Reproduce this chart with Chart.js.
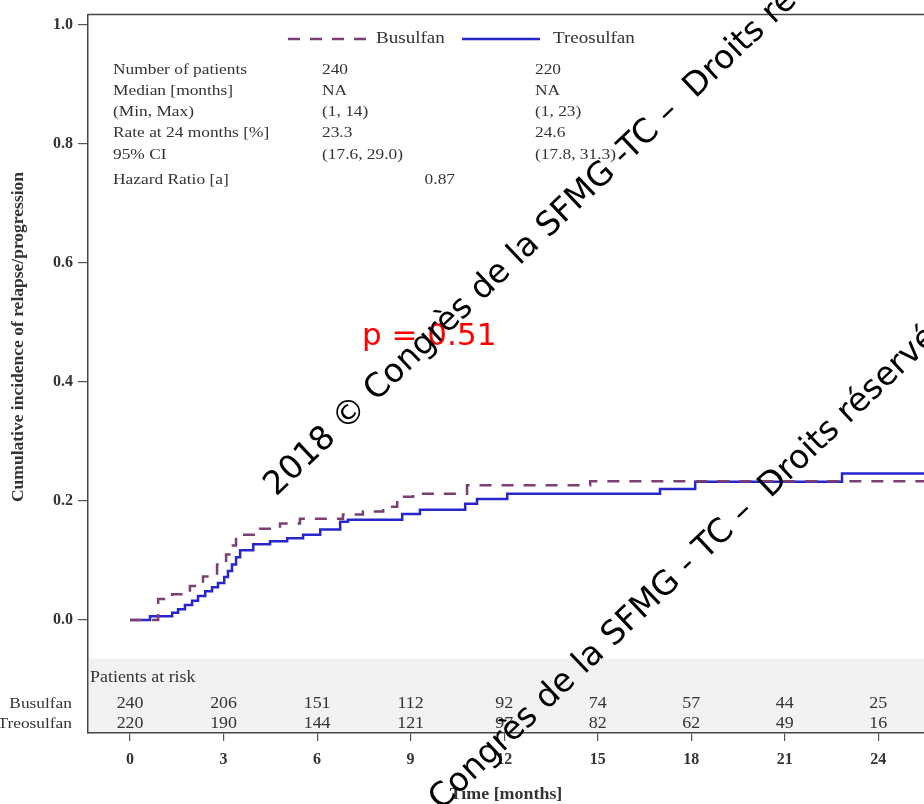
<!DOCTYPE html>
<html>
<head>
<meta charset="utf-8">
<script src="https://cdn.jsdelivr.net/npm/chart.js@4.4.1/dist/chart.umd.min.js"></script>
<style>
  html, body { margin: 0; padding: 0; background: #fff; }
  canvas { display: block; }
</style>
</head>
<body>
<canvas id="chart" width="924" height="804"></canvas>
<script>
// Cumulative incidence of relapse/progression by conditioning regimen
const groupNames = ['Busulfan', 'Treosulfan'];

// Busulfan: event times [months] and cumulative incidence after each event
const busulfanTime = [0, 0.9, 1.35, 1.92, 2.34, 2.79, 3.08, 3.24, 3.40, 3.60, 4.17, 4.81, 5.45, 6.83, 7.47, 8.12, 8.57, 9.08, 10.81, 14.76, 25.5];
const busulfanCI   = [0, 0.035, 0.043, 0.057, 0.073, 0.093, 0.110, 0.125, 0.140, 0.143, 0.153, 0.162, 0.170, 0.177, 0.182, 0.190, 0.207, 0.212, 0.226, 0.233, 0.233];

// Treosulfan: event times [months] and cumulative incidence after each event
const treosulfanTime = [0, 0.64, 1.35, 1.54, 1.76, 1.99, 2.18, 2.41, 2.63, 2.82, 3.02, 3.14, 3.27, 3.40, 3.53, 3.95, 4.49, 5.04, 5.55, 6.10, 6.74, 6.99, 8.73, 9.30, 10.75, 11.13, 12.10, 17.00, 18.13, 22.84, 25.5];
const treosulfanCI   = [0, 0.006, 0.012, 0.018, 0.025, 0.032, 0.040, 0.048, 0.055, 0.062, 0.072, 0.082, 0.093, 0.105, 0.117, 0.127, 0.132, 0.137, 0.143, 0.152, 0.165, 0.168, 0.178, 0.185, 0.195, 0.203, 0.212, 0.220, 0.232, 0.246, 0.246];

// Axis ticks
const xTicks = [0, 3, 6, 9, 12, 15, 18, 21, 24];
const yTicks = [0, 0.2, 0.4, 0.6, 0.8, 1.0];

// Patients at risk at each x tick
const busulfanAtRisk   = [240, 206, 151, 112, 92, 74, 57, 44, 25];
const treosulfanAtRisk = [220, 190, 144, 121, 97, 82, 62, 49, 16];

// Summary table
const statLabels      = ['Number of patients', 'Median [months]', '(Min, Max)', 'Rate at 24 months [%]', '95% CI', 'Hazard Ratio [a]'];
const busulfanStats   = ['240', 'NA', '(1, 14)', '23.3', '(17.6, 29.0)', ''];
const treosulfanStats = ['220', 'NA', '(1, 23)', '24.6', '(17.8, 31.3)', ''];
const hazardRatio = '0.87';
const pValueText = 'p = 0.51';

const watermarkTexts = [
  '2018 \u00A9 Congr\u00E8s de la SFMG -TC \u2013  Droits r\u00E9serv\u00E9s',
  '2018 \u00A9 Congr\u00E8s de la SFMG - TC \u2013  Droits r\u00E9serv\u00E9s'
];

const COLOR_BU = '#7b3f72';
const COLOR_TREO = '#2626cc';
const TEXT_COLOR = '#333';
const SERIF = '"Liberation Serif", "Times New Roman", serif';
const SX = 1.12; // horizontal stretch of the serif annotation text

function toPoints(ts, vs) { return ts.map((t, i) => ({ x: t, y: vs[i] })); }

function drawText(ctx, s, x, y, font, color, align, sx) {
  ctx.save();
  ctx.font = font;
  ctx.fillStyle = color;
  ctx.textBaseline = 'middle';
  ctx.textAlign = align || 'left';
  ctx.translate(x, y);
  ctx.scale(sx === undefined ? SX : sx, 1);
  ctx.fillText(s, 0, 0);
  ctx.restore();
}

const decorations = {
  id: 'decorations',
  beforeDraw(chart) {
    // shaded band holding the patients-at-risk table
    const { ctx, chartArea, scales } = chart;
    const yTop = scales.y.getPixelForValue(-0.065);
    ctx.save();
    ctx.fillStyle = '#f2f2f2';
    ctx.fillRect(chartArea.left + 1, yTop, chartArea.right - chartArea.left, chartArea.bottom - yTop - 1);
    ctx.restore();
  },
  afterDatasetsDraw(chart) {
    const { ctx, chartArea, scales } = chart;
    const xs = scales.x;

    // top frame line
    ctx.save();
    ctx.strokeStyle = '#444';
    ctx.lineWidth = 1.5;
    ctx.beginPath();
    ctx.moveTo(chartArea.left, chartArea.top);
    ctx.lineTo(chartArea.right, chartArea.top);
    ctx.stroke();
    ctx.restore();

    // legend
    const ly = 39;
    ctx.save();
    ctx.lineWidth = 2.5;
    ctx.strokeStyle = COLOR_BU;
    ctx.setLineDash([12, 10]);
    ctx.beginPath(); ctx.moveTo(288, ly); ctx.lineTo(366, ly); ctx.stroke();
    ctx.setLineDash([]);
    ctx.strokeStyle = COLOR_TREO;
    ctx.beginPath(); ctx.moveTo(462, ly); ctx.lineTo(540, ly); ctx.stroke();
    ctx.restore();
    drawText(ctx, groupNames[0], 376, ly, '17px ' + SERIF, TEXT_COLOR, 'left');
    drawText(ctx, groupNames[1], 553, ly, '17px ' + SERIF, TEXT_COLOR, 'left');

    // summary table
    const rowY = [70, 91, 112, 133, 155, 180];
    const tf = '15.5px ' + SERIF;
    statLabels.forEach((s, i) => {
      drawText(ctx, s, 113, rowY[i], tf, TEXT_COLOR, 'left');
      if (busulfanStats[i]) drawText(ctx, busulfanStats[i], 322, rowY[i], tf, TEXT_COLOR, 'left');
      if (treosulfanStats[i]) drawText(ctx, treosulfanStats[i], 535, rowY[i], tf, TEXT_COLOR, 'left');
    });
    drawText(ctx, hazardRatio, 455, rowY[5], tf, TEXT_COLOR, 'right');

    // patients at risk
    const rf = '16px ' + SERIF;
    drawText(ctx, 'Patients at risk', 90, 678, rf, TEXT_COLOR, 'left');
    drawText(ctx, groupNames[0], 72, 704, '15.5px ' + SERIF, TEXT_COLOR, 'right');
    drawText(ctx, groupNames[1], 72, 724, '15.5px ' + SERIF, TEXT_COLOR, 'right');
    xTicks.forEach((t, i) => {
      const px = xs.getPixelForValue(t);
      drawText(ctx, String(busulfanAtRisk[i]), px, 704, rf, TEXT_COLOR, 'center');
      drawText(ctx, String(treosulfanAtRisk[i]), px, 724, rf, TEXT_COLOR, 'center');
    });

    // axis titles
    drawText(ctx, 'Time [months]', (chartArea.left + chartArea.right) / 2, 795, 'bold 16px ' + SERIF, TEXT_COLOR, 'center');
    ctx.save();
    ctx.translate(18, 337);
    ctx.rotate(-Math.PI / 2);
    ctx.font = 'bold 17.5px ' + SERIF;
    ctx.fillStyle = TEXT_COLOR;
    ctx.textAlign = 'center';
    ctx.textBaseline = 'middle';
    ctx.fillText('Cumulative incidence of relapse/progression', 0, 0);
    ctx.restore();

    // p-value
    ctx.save();
    ctx.font = '31px "DejaVu Sans", sans-serif';
    ctx.fillStyle = '#ff0000';
    ctx.textBaseline = 'alphabetic';
    ctx.textAlign = 'left';
    ctx.fillText(pValueText, 362, 345);
    ctx.restore();
  },
  afterDraw(chart) {
    const { ctx } = chart;
    const origins = [[276, 497], [341, 906]];
    ctx.save();
    ctx.font = '33px "DejaVu Sans", sans-serif';
    ctx.fillStyle = '#000';
    ctx.textBaseline = 'alphabetic';
    ctx.textAlign = 'left';
    watermarkTexts.forEach((s, i) => {
      ctx.save();
      ctx.translate(origins[i][0], origins[i][1]);
      ctx.rotate(-43.5 * Math.PI / 180);
      ctx.fillText(s, 0, 0);
      ctx.restore();
    });
    ctx.restore();
  }
};

const tickFont = { family: SERIF, size: 16, weight: 'bold' };

new Chart(document.getElementById('chart'), {
  type: 'line',
  data: {
    datasets: [
      {
        label: groupNames[0],
        data: toPoints(busulfanTime, busulfanCI),
        borderColor: COLOR_BU,
        borderWidth: 2.5,
        borderDash: [12, 10],
        stepped: 'before',
        pointRadius: 0,
        fill: false
      },
      {
        label: groupNames[1],
        data: toPoints(treosulfanTime, treosulfanCI),
        borderColor: COLOR_TREO,
        borderWidth: 2.5,
        stepped: 'before',
        pointRadius: 0,
        fill: false
      }
    ]
  },
  options: {
    responsive: false,
    animation: false,
    devicePixelRatio: 1,
    layout: { padding: { top: 8, left: 0, right: 0, bottom: 0 } },
    plugins: { legend: { display: false }, tooltip: { enabled: false } },
    scales: {
      x: {
        type: 'linear',
        min: -1.35,
        max: 25.47,
        afterBuildTicks: s => { s.ticks = xTicks.map(v => ({ value: v })); },
        afterFit: s => { s.height = 71; },
        border: { display: true, color: '#444', width: 1.5 },
        grid: { drawOnChartArea: false, drawTicks: true, tickLength: 8, color: '#555', lineWidth: 1.2 },
        ticks: { font: tickFont, color: TEXT_COLOR, padding: 9, maxRotation: 0, autoSkip: false, callback: v => String(v) }
      },
      y: {
        type: 'linear',
        min: -0.19,
        max: 1.0167,
        afterBuildTicks: s => { s.ticks = yTicks.map(v => ({ value: v })); },
        afterFit: s => { s.width = 88; },
        border: { display: true, color: '#444', width: 1.5 },
        grid: { drawOnChartArea: false, drawTicks: true, tickLength: 10, color: '#555', lineWidth: 1.2 },
        ticks: { font: tickFont, color: TEXT_COLOR, padding: 5, autoSkip: false, callback: v => Number(v).toFixed(1) }
      }
    }
  },
  plugins: [decorations]
});
</script>
</body>
</html>
